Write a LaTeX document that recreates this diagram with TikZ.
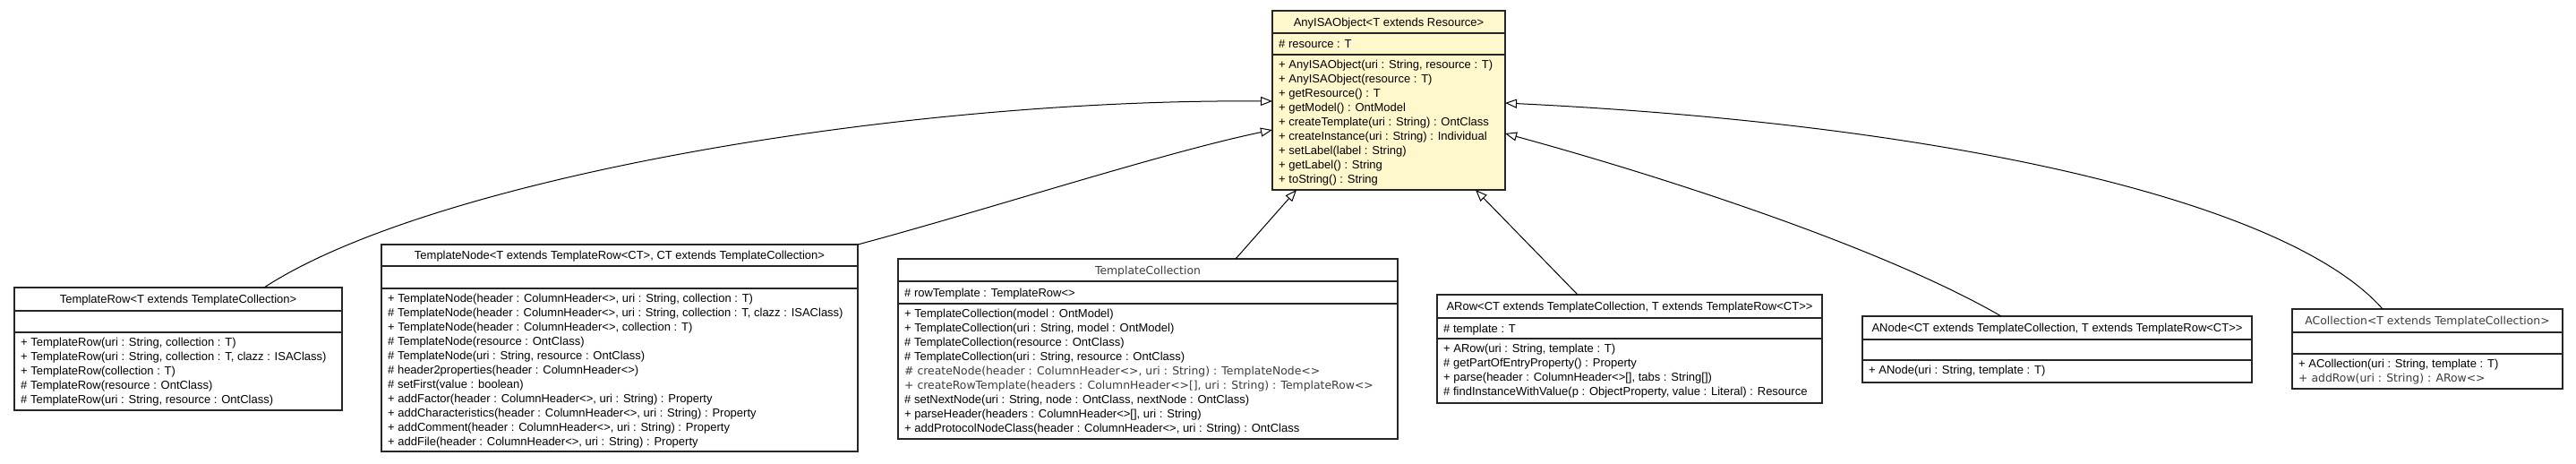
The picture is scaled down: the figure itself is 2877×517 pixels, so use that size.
\documentclass[tikz,border=0pt]{standalone}
\usepackage{fontspec}
\setmainfont{Liberation Sans}
\newfontfamily\absfont{DejaVu Sans}
\usetikzlibrary{arrows.meta}
\definecolor{umlyellow}{RGB}{255,248,204}
\definecolor{absgray}{RGB}{60,60,60}
\tikzset{
  box/.style={draw=black!85, line width=1.3pt, inner sep=0pt, outer sep=0pt, anchor=north west},
  sepline/.style={draw=black!85, line width=1.3pt},
  txt/.style={inner sep=0pt, font=\fontsize{13}{16}\selectfont},
  abstxt/.style={inner sep=0pt, font=\absfont\fontsize{12.4}{16}\selectfont, text=absgray},
  gen/.style={draw=black, line width=1pt, -{Triangle[length=13pt, width=10pt, fill=white, line width=1pt]}},
}
% #1 name, #2 left, #3 top, #4 right, #5 bottom, #6 header sep, #7 attr sep, #8 fill
\newcommand{\umlclass}[8]{%
  \node[box, fill=#8, minimum width={#4-#2}, minimum height={#5-#3}] (#1) at (#2,-#3) {};
  \draw[sepline] (#2,-#6) -- (#4,-#6);
  \draw[sepline] (#2,-#7) -- (#4,-#7);
}
% #1 name prefix, #2 x, #3 first baseline, #4 style, #5 list
\newcommand{\umllines}[5]{%
  \foreach \t [count=\i] in {#5} {\node[#4, anchor=base west] (#1\i) at (#2, {-(#3+16*(\i-1))}) {\t};}
}
\begin{document}
\begin{tikzpicture}[x=1pt,y=1pt]
\useasboundingbox (0,0) rectangle (2877,-517);
\fill[white] (0,0) rectangle (2877,-517);

% AnyISAObject
\umlclass{anyisa}{1421}{12}{1681}{212}{37}{61}{umlyellow}
\node[txt, anchor=base] (anyisa-t) at (1551,-29) {AnyISAObject<T extends Resource>};
\umllines{anyisa-a}{1428}{53.5}{txt}{{\# resource : T}}
\umllines{anyisa-m}{1428}{76.5}{txt}{{+ AnyISAObject(uri : String, resource : T)},{+ AnyISAObject(resource : T)},{+ getResource() : T},{+ getModel() : OntModel},{+ createTemplate(uri : String) : OntClass},{+ createInstance(uri : String) : Individual},{+ setLabel(label : String)},{+ getLabel() : String},{+ toString() : String}}

% TemplateRow
\umlclass{trow}{16}{321}{382}{458}{347}{371}{white}
\node[txt, anchor=base] (trow-t) at (199,-338.5) {TemplateRow<T extends TemplateCollection>};
\umllines{trow-m}{23}{386.5}{txt}{{+ TemplateRow(uri : String, collection : T)},{+ TemplateRow(uri : String, collection : T, clazz : ISAClass)},{+ TemplateRow(collection : T)},{\# TemplateRow(resource : OntClass)},{\# TemplateRow(uri : String, resource : OntClass)}}

% TemplateNode
\umlclass{tnode}{426}{273}{958}{504}{297}{322}{white}
\node[txt, anchor=base] (tnode-t) at (692,-289.5) {TemplateNode<T extends TemplateRow<CT>, CT extends TemplateCollection>};
\umllines{tnode-m}{433}{337.5}{txt}{{+ TemplateNode(header : ColumnHeader<>, uri : String, collection : T)},{\# TemplateNode(header : ColumnHeader<>, uri : String, collection : T, clazz : ISAClass)},{+ TemplateNode(header : ColumnHeader<>, collection : T)},{\# TemplateNode(resource : OntClass)},{\# TemplateNode(uri : String, resource : OntClass)},{\# header2properties(header : ColumnHeader<>)},{\# setFirst(value : boolean)},{+ addFactor(header : ColumnHeader<>, uri : String) : Property},{+ addCharacteristics(header : ColumnHeader<>, uri : String) : Property},{+ addComment(header : ColumnHeader<>, uri : String) : Property},{+ addFile(header : ColumnHeader<>, uri : String) : Property}}

% TemplateCollection
\umlclass{tcoll}{1003}{289}{1561}{490}{314}{339}{white}
\node[abstxt, anchor=base] (tcoll-t) at (1282,-306) {TemplateCollection};
\umllines{tcoll-a}{1010}{331}{txt}{{\# rowTemplate : TemplateRow<>}}
\umllines{tcoll-m}{1010}{354.5}{txt}{{+ TemplateCollection(model : OntModel)},{+ TemplateCollection(uri : String, model : OntModel)},{\# TemplateCollection(resource : OntClass)},{\# TemplateCollection(uri : String, resource : OntClass)}}
\umllines{tcoll-n}{1010}{418.5}{abstxt}{{\# createNode(header : ColumnHeader<>, uri : String) : TemplateNode<>},{+ createRowTemplate(headers : ColumnHeader<>[], uri : String) : TemplateRow<>}}
\umllines{tcoll-o}{1010}{450.5}{txt}{{\# setNextNode(uri : String, node : OntClass, nextNode : OntClass)},{+ parseHeader(headers : ColumnHeader<>[], uri : String)},{+ addProtocolNodeClass(header : ColumnHeader<>, uri : String) : OntClass}}

% ARow
\umlclass{arow}{1605}{329}{2035}{450}{355}{378}{white}
\node[txt, anchor=base] (arow-t) at (1820,-346.5) {ARow<CT extends TemplateCollection, T extends TemplateRow<CT>{}>};
\umllines{arow-a}{1612}{371}{txt}{{\# template : T}}
\umllines{arow-m}{1612}{393.5}{txt}{{+ ARow(uri : String, template : T)},{\# getPartOfEntryProperty() : Property},{+ parse(header : ColumnHeader<>[], tabs : String[])},{\# findInstanceWithValue(p : ObjectProperty, value : Literal) : Resource}}

% ANode
\umlclass{anode}{2080}{353}{2515}{427}{379}{402}{white}
\node[txt, anchor=base] (anode-t) at (2297.5,-370.5) {ANode<CT extends TemplateCollection, T extends TemplateRow<CT>{}>};
\umllines{anode-m}{2087}{417.5}{txt}{{+ ANode(uri : String, template : T)}}

% ACollection
\umlclass{acoll}{2560}{345}{2862}{434}{371}{395}{white}
\node[abstxt, anchor=base] (acoll-t) at (2711,-362.5) {ACollection<T extends TemplateCollection>};
\umllines{acoll-m}{2567}{410.5}{txt}{{+ ACollection(uri : String, template : T)}}
\umllines{acoll-n}{2567}{426.5}{abstxt}{{+ addRow(uri : String) : ARow<>}}

% generalizations
\draw[gen] ([xshift=279pt]trow.north west) .. controls (480,-200) and (1000,-110) .. ([yshift=-101pt]anyisa.north west);
\draw[gen] (tnode.north east) .. controls (1100,-235) and (1300,-170) .. ([yshift=-133pt]anyisa.north west);
\draw[gen] ([xshift=377pt]tcoll.north west) -- ([xshift=27pt]anyisa.south west);
\draw[gen] ([xshift=157pt]arow.north west) -- ([xshift=227pt]anyisa.south west);
\draw[gen] ([xshift=155pt]anode.north west) .. controls (2100,-275) and (1850,-195) .. ([yshift=-137pt]anyisa.north east);
\draw[gen] ([xshift=101pt]acoll.north west) .. controls (2560,-230) and (2200,-140) .. ([yshift=-103pt]anyisa.north east);
\end{tikzpicture}
\end{document}
